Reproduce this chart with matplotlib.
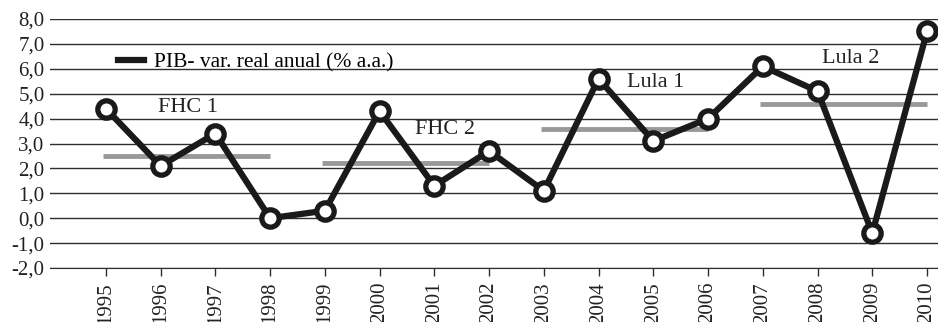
import matplotlib.pyplot as plt

# Data
years = ["1995", "1996", "1997", "1998", "1999", "2000", "2001", "2002",
         "2003", "2004", "2005", "2006", "2007", "2008", "2009", "2010"]
pib = [4.4, 2.1, 3.4, 0.0, 0.3, 4.3, 1.3, 2.7,
       1.1, 5.6, 3.1, 4.0, 6.1, 5.1, -0.6, 7.5]

# Mandate averages: (label, first year index, last year index, mean)
mandates = ["FHC 1", "FHC 2", "Lula 1", "Lula 2"]
mandate_start = [0, 4, 8, 12]
mandate_end = [3, 7, 11, 15]
mandate_mean = [2.5, 2.2, 3.6, 4.6]
label_x = [1.5, 6.2, 10.05, 13.6]
label_y = [4.45, 3.55, 5.45, 6.4]

y_ticks = [-2, -1, 0, 1, 2, 3, 4, 5, 6, 7, 8]

plt.rcParams["font.family"] = ["Liberation Serif", "DejaVu Serif"]

fig = plt.figure(figsize=(9.38, 3.22), dpi=100)
ax = fig.add_axes([50 / 938, 54 / 322, 888 / 938, 249 / 322])

x = list(range(len(years)))

# Gridlines
for v in y_ticks:
    ax.axhline(v, color="#2e2e2e", lw=1.0, zorder=1)

# Mandate average lines
for s, e, m in zip(mandate_start, mandate_end, mandate_mean):
    ax.plot([x[s] - 0.05, x[e]], [m, m], color="#999999", lw=3.5,
            solid_capstyle="butt", zorder=2)

for lab, lx, ly in zip(mandates, label_x, label_y):
    ax.text(lx, ly, lab, ha="center", va="center", fontsize=16, color="#222222")

# PIB line
ax.plot(x, pib, color="#1a1a1a", lw=4.5, marker="o", markersize=12.5,
        markerfacecolor="white", markeredgecolor="#1a1a1a",
        markeredgewidth=3.8, zorder=3, label="PIB- var. real anual (% a.a.)")

ax.set_xlim(-1.02, 15.2)
ax.set_ylim(-2, 8)
ax.set_yticks(y_ticks)
ax.set_yticklabels([f"{v:.1f}".replace(".", ",") for v in y_ticks])
ax.set_xticks(x)
ax.set_xticklabels(years, rotation=90)

for sp in ["top", "right", "left"]:
    ax.spines[sp].set_visible(False)
ax.spines["bottom"].set_color("#2e2e2e")
ax.tick_params(axis="y", length=0, labelsize=15, pad=4, colors="#222222")
ax.tick_params(axis="x", length=6, width=1, direction="out", labelsize=15,
               pad=4, colors="#2e2e2e", labelcolor="#222222")

leg = ax.legend(loc="upper left", bbox_to_anchor=(0.055, 0.945), frameon=False,
                fontsize=15.5, handlelength=1.2, markerscale=0,
                handletextpad=0.45)
for h in leg.legend_handles:
    h.set_marker("")

fig.savefig("out.png", dpi=100)
